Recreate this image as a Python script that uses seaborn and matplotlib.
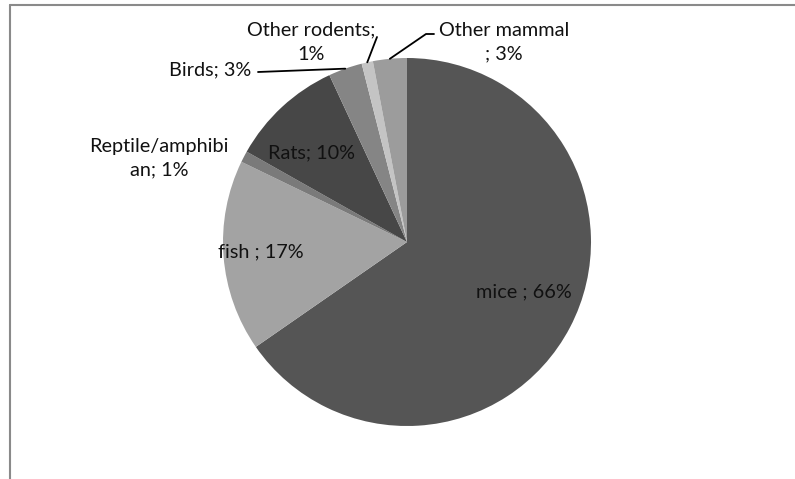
import numpy as np
import matplotlib
matplotlib.use("Agg")
import matplotlib.pyplot as plt
from matplotlib.lines import Line2D
import seaborn as sns

# Share of animals by group (percent)
categories = ["mice", "fish", "Reptile/amphibian", "Rats", "Birds",
              "Other rodents", "Other mammal"]
values = [66, 17, 1, 10, 3, 1, 3]
labels = ["mice ; 66%", "fish ; 17%", "Reptile/amphibi\nan; 1%", "Rats; 10%",
          "Birds; 3%", "Other rodents;\n1%", "Other mammal\n; 3%"]
colors = ["#555555", "#a3a3a3", "#7a7a7a", "#474747", "#858585",
          "#c4c4c4", "#9c9c9c"]

sns.set_theme(style="white")
plt.rcParams["font.family"] = ["Lato", "DejaVu Sans"]

W, H = 795, 479
fig = plt.figure(figsize=(W / 100, H / 100), dpi=100)

cx, cy, r = 407, 242, 184
ax = fig.add_axes([(cx - r) / W, (H - cy - r) / H, 2 * r / W, 2 * r / H])
wedges, _ = ax.pie(values, colors=sns.color_palette(colors), startangle=90,
                   counterclock=False, radius=1.0,
                   wedgeprops=dict(linewidth=0))
ax.set_xlim(-1, 1)
ax.set_ylim(-1, 1)
ax.set_axis_off()


def px(x, y):
    """Pixel position -> pie data coordinates."""
    return (x - cx) / r, (cy - y) / r


def edge_point(w, rad=1.0):
    mid = np.deg2rad((w.theta1 + w.theta2) / 2)
    return rad * np.cos(mid), rad * np.sin(mid)


fs = 14.3
ls = 1.5
tc = "#111111"
# labels inside the larger slices
ax.text(*px(524, 292), labels[0], ha="center", va="center", fontsize=fs, color=tc)
ax.text(*px(261, 252), labels[1], ha="center", va="center", fontsize=fs, color=tc)
ax.text(*px(311, 153), labels[3], ha="center", va="center", fontsize=fs, color=tc)

# reptile label beside the pie
ax.text(*px(159, 158), labels[2], ha="center", va="center", fontsize=fs,
        color=tc, linespacing=1.45, clip_on=False)

# Birds with horizontal leader
bx, by = edge_point(wedges[4])
ax.text(*px(210, 70), labels[4], ha="center", va="center", fontsize=fs,
        color=tc, clip_on=False)
lx, ly = px(258, 72)
ax.add_line(Line2D([lx, bx], [ly, by], color="black", lw=1.3, clip_on=False))

# Other rodents with leader
ox, oy = edge_point(wedges[5])
ax.text(*px(311, 42), labels[5], ha="center", va="center", fontsize=fs,
        color=tc, linespacing=ls, clip_on=False)
lx, ly = px(377, 37)
ax.add_line(Line2D([lx, ox], [ly, oy], color="black", lw=1.3, clip_on=False))

# Other mammal with elbow leader
mx, my = edge_point(wedges[6])
ax.text(*px(504, 42), labels[6], ha="center", va="center", fontsize=fs,
        color=tc, linespacing=ls, clip_on=False)
x1, y1 = px(434, 34)
x2, y2 = px(426, 34)
ax.add_line(Line2D([x1, x2, mx], [y1, y2, my], color="black", lw=1.3, clip_on=False))

# chart area border (top and left edges)
fig.add_artist(Line2D([9.5 / W, 1.0], [1 - 4.5 / H, 1 - 4.5 / H],
                      transform=fig.transFigure, color="#8a8a8a", lw=1.5))
fig.add_artist(Line2D([9.5 / W, 9.5 / W], [0, 1 - 4.5 / H],
                      transform=fig.transFigure, color="#8a8a8a", lw=1.5))

fig.savefig("out.png", dpi=100, facecolor="white")
